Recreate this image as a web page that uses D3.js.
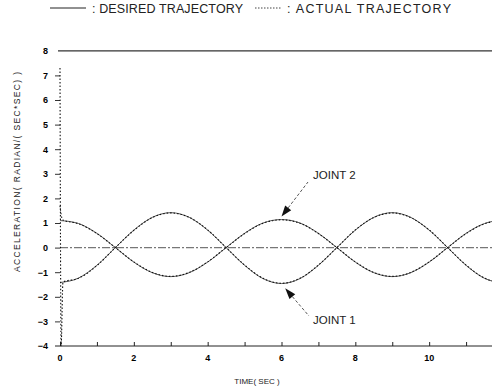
<!DOCTYPE html>
<html>
<head>
<meta charset="utf-8">
<script src="https://cdn.jsdelivr.net/npm/d3@7"></script>
<style>
  body { margin: 0; background: #fff; }
  svg { display: block; font-family: "Liberation Sans", Arial, sans-serif; }
</style>
</head>
<body>
<svg id="chart"></svg>
<script>
// desired trajectories, sampled every 0.5 s
const timeSec = [0, 0.5, 1, 1.5, 2, 2.5, 3, 3.5, 4, 4.5, 5, 5.5, 6, 6.5, 7, 7.5, 8, 8.5, 9, 9.5, 10, 10.5, 11, 11.5, 12];
const joint1Desired = [-1.42, -1.24, -0.72, 0.0, 0.71, 1.23, 1.42, 1.23, 0.71, 0.0, -0.72, -1.26, -1.46, -1.26, -0.72, 0.0, 0.71, 1.23, 1.42, 1.23, 0.71, 0.0, -0.72, -1.25, -1.44];
const joint2Desired = [1.10, 0.98, 0.58, 0.0, -0.59, -1.02, -1.18, -1.02, -0.59, 0.0, 0.58, 1.0, 1.14, 1.0, 0.58, 0.0, -0.59, -1.02, -1.18, -1.02, -0.59, 0.0, 0.58, 0.98, 1.12];

// actual trajectories (start-up spike, then following the desired ones)
const actualTime = [0, 0.03, 0.08, 0.5, 1, 1.5, 2, 2.5, 3, 3.5, 4, 4.5, 5, 5.5, 6, 6.5, 7, 7.5, 8, 8.5, 9, 9.5, 10, 10.5, 11, 11.5, 12];
const joint1Actual = [7.3, -4.0, -1.40, -1.25, -0.73, 0.0, 0.70, 1.22, 1.41, 1.23, 0.72, 0.0, -0.71, -1.25, -1.45, -1.25, -0.71, 0.0, 0.72, 1.22, 1.41, 1.22, 0.72, 0.0, -0.71, -1.24, -1.43];
const joint2Actual = [1.7, 1.35, 1.12, 0.97, 0.57, 0.0, -0.58, -1.01, -1.17, -1.01, -0.58, 0.0, 0.57, 0.99, 1.13, 0.99, 0.57, 0.0, -0.58, -1.01, -1.17, -1.01, -0.58, 0.0, 0.57, 0.97, 1.11];

const yTicks = [8, 7, 6, 5, 4, 3, 2, 1, 0, -1, -2, -3, -4];
const xTicks = [0, 1, 2, 3, 4, 5, 6, 7, 8, 9, 10, 11];
const xTickLabels = [0, 2, 4, 6, 8, 10];

const width = 492;
const height = 386;

const x = d3.scaleLinear().domain([0, 12]).range([60, 503]);
const y = d3.scaleLinear().domain([-4, 8]).range([346, 50.8]);

const svg = d3.select("#chart").attr("width", width).attr("height", height);

// legend
svg.append("line")
  .attr("x1", 50).attr("x2", 86).attr("y1", 8).attr("y2", 8)
  .attr("stroke", "#222").attr("stroke-width", 1);
svg.append("text")
  .attr("x", 92).attr("y", 12.5)
  .attr("font-size", 12.5).attr("fill", "#222")
  .attr("textLength", 151).attr("lengthAdjust", "spacing")
  .text(": DESIRED TRAJECTORY");
svg.append("line")
  .attr("x1", 255).attr("x2", 282).attr("y1", 8).attr("y2", 8)
  .attr("stroke", "#444").attr("stroke-width", 1).attr("stroke-dasharray", "1.5,1.5");
svg.append("text")
  .attr("x", 287).attr("y", 12.5)
  .attr("font-size", 12.5).attr("fill", "#222")
  .attr("textLength", 164).attr("lengthAdjust", "spacing")
  .text(": ACTUAL TRAJECTORY");

// top line at 8
svg.append("line")
  .attr("x1", 58).attr("x2", width)
  .attr("y1", y(8)).attr("y2", y(8))
  .attr("stroke", "#333").attr("stroke-width", 1.2);

// zero reference line
svg.append("line")
  .attr("x1", x(0)).attr("x2", width)
  .attr("y1", y(0)).attr("y2", y(0))
  .attr("stroke", "#777").attr("stroke-width", 1.3)
  .attr("stroke-dasharray", "8,2,2,2");

// bottom axis
const xAxis = svg.append("g")
  .attr("transform", `translate(0,${y(-4)})`)
  .call(d3.axisTop(x).tickValues(xTicks).tickSize(4).tickFormat(""));
xAxis.select(".domain").attr("d", `M55,0H${width}`).attr("stroke", "#222");
xAxis.selectAll(".tick line").attr("stroke", "#222");

svg.append("g").selectAll("text")
  .data(xTickLabels)
  .join("text")
  .attr("x", d => x(d))
  .attr("y", 361)
  .attr("text-anchor", "middle")
  .attr("font-size", 9).attr("font-weight", "bold").attr("fill", "#000")
  .text(d => d);

// left axis: ticks and labels only
const yAxis = svg.append("g")
  .attr("transform", `translate(${x(0)},0)`)
  .call(d3.axisLeft(y).tickValues(yTicks).tickSize(5).tickPadding(7));
yAxis.select(".domain").remove();
yAxis.selectAll(".tick line").attr("stroke", "#333");
yAxis.selectAll(".tick").filter(d => d === 8 || d === -4).select("line").remove();
yAxis.selectAll(".tick text")
  .attr("font-size", 9).attr("font-weight", "bold").attr("fill", "#000")
  .attr("font-family", "Liberation Sans, Arial, sans-serif");

// axis titles
svg.append("text")
  .attr("transform", "translate(20,172) rotate(-90)")
  .attr("text-anchor", "middle")
  .attr("font-size", 8.5).attr("fill", "#222")
  .attr("textLength", 200).attr("lengthAdjust", "spacing")
  .text("ACCELERATION( RADIAN/( SEC*SEC) )");
svg.append("text")
  .attr("x", 257).attr("y", 384)
  .attr("text-anchor", "middle")
  .attr("font-size", 8).attr("fill", "#222")
  .text("TIME( SEC )");

// curves
const desiredLine = d3.line()
  .x((d, i) => x(timeSec[i]))
  .y(d => y(d))
  .curve(d3.curveMonotoneX);
const actualLine = d3.line()
  .x((d, i) => x(actualTime[i]))
  .y(d => y(d))
  .curve(d3.curveMonotoneX);

const plot = svg.append("g");
[joint1Desired, joint2Desired].forEach(series => {
  plot.append("path")
    .datum(series)
    .attr("fill", "none")
    .attr("stroke", "#444")
    .attr("stroke-width", 0.9)
    .attr("d", desiredLine);
});
[joint1Actual, joint2Actual].forEach(series => {
  plot.append("path")
    .datum(series)
    .attr("fill", "none")
    .attr("stroke", "#111")
    .attr("stroke-width", 1.1)
    .attr("stroke-dasharray", "1.5,2")
    .attr("d", actualLine);
});

// annotations
function annotate(tipT, tipV, dy, fromX, fromY, label, textY) {
  const tx = x(tipT);
  const ty = y(tipV) + dy;
  const ang = Math.atan2(fromY - ty, fromX - tx);
  const len = 11, half = 3.8;
  const bx = tx + len * Math.cos(ang), by = ty + len * Math.sin(ang);
  svg.append("line")
    .attr("x1", bx).attr("y1", by).attr("x2", fromX).attr("y2", fromY)
    .attr("stroke", "#444").attr("stroke-width", 0.9)
    .attr("stroke-dasharray", "3,2");
  const px = -Math.sin(ang) * half, py = Math.cos(ang) * half;
  svg.append("path")
    .attr("d", `M${tx},${ty}L${bx + px},${by + py}L${bx - px},${by - py}Z`)
    .attr("fill", "#111");
  svg.append("text")
    .attr("x", 313).attr("y", textY)
    .attr("font-size", 11.5).attr("fill", "#222")
    .text(label);
}
annotate(6, 1.14, -3, 308, 182, "JOINT 2", 179);
annotate(6.1, -1.45, 5, 309, 316, "JOINT 1", 324);
</script>
</body>
</html>
